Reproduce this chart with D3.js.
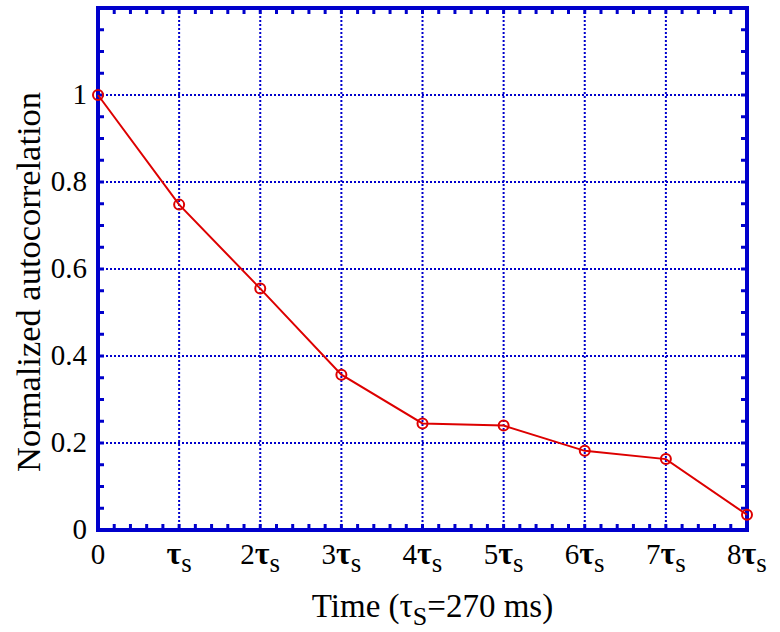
<!DOCTYPE html>
<html>
<head>
<meta charset="utf-8">
<script src="https://cdn.jsdelivr.net/npm/d3@7"></script>
<style>
  body { margin: 0; background: #fff; }
  text { font-family: "Liberation Serif", "DejaVu Serif", serif; fill: #000; }
</style>
</head>
<body>
<svg id="chart" width="780" height="632"></svg>
<script>
// lag in units of tau_s, and normalized autocorrelation
var lags = [0, 1, 2, 3, 4, 5, 6, 7, 8];
var corr = [1.0, 0.748, 0.555, 0.357, 0.245, 0.240, 0.182, 0.163, 0.035];
var yTicks = [0, 0.2, 0.4, 0.6, 0.8, 1];
var yTickLabels = ['0', '0.2', '0.4', '0.6', '0.8', '1'];

var blue = '#0000cc';
var red = '#dd0000';

var svg = d3.select('#chart');
var margin = { left: 98, right: 33, top: 8, bottom: 102 };
var width = 780 - margin.left - margin.right;
var height = 632 - margin.top - margin.bottom;

var g = svg.append('g').attr('transform', 'translate(' + margin.left + ',' + margin.top + ')');

var x = d3.scaleLinear().domain([0, 8]).range([0, width]);
var y = d3.scaleLinear().domain([0, 1.2]).range([height, 0]);

// grid
var gridX = d3.range(1, 8);
var gridY = [0.2, 0.4, 0.6, 0.8, 1];
g.selectAll('.gx').data(gridX).enter().append('line')
    .attr('x1', function(d) { return x(d); }).attr('x2', function(d) { return x(d); })
    .attr('y1', 0).attr('y2', height)
    .attr('stroke', blue).attr('stroke-width', 2).attr('stroke-dasharray', '2,2');
g.selectAll('.gy').data(gridY).enter().append('line')
    .attr('y1', function(d) { return y(d); }).attr('y2', function(d) { return y(d); })
    .attr('x1', 0).attr('x2', width)
    .attr('stroke', blue).attr('stroke-width', 2).attr('stroke-dasharray', '2,2');

// minor ticks
var xMinor = d3.range(0, 8.001, 0.2);
var yMinor = d3.range(0, 1.2001, 0.05);
var tickLen = 6;
g.selectAll('.xmb').data(xMinor).enter().append('line')
    .attr('x1', function(d) { return x(d); }).attr('x2', function(d) { return x(d); })
    .attr('y1', height).attr('y2', height - tickLen)
    .attr('stroke', blue).attr('stroke-width', 3);
g.selectAll('.xmt').data(xMinor).enter().append('line')
    .attr('x1', function(d) { return x(d); }).attr('x2', function(d) { return x(d); })
    .attr('y1', 0).attr('y2', tickLen)
    .attr('stroke', blue).attr('stroke-width', 3);
g.selectAll('.yml').data(yMinor).enter().append('line')
    .attr('y1', function(d) { return y(d); }).attr('y2', function(d) { return y(d); })
    .attr('x1', 0).attr('x2', tickLen)
    .attr('stroke', blue).attr('stroke-width', 3);
g.selectAll('.ymr').data(yMinor).enter().append('line')
    .attr('y1', function(d) { return y(d); }).attr('y2', function(d) { return y(d); })
    .attr('x1', width).attr('x2', width - tickLen)
    .attr('stroke', blue).attr('stroke-width', 3);

// frame
g.append('rect').attr('x', 0).attr('y', 0).attr('width', width).attr('height', height)
    .attr('fill', 'none').attr('stroke', blue).attr('stroke-width', 4);

// line + markers
var line = d3.line()
    .x(function(d, i) { return x(lags[i]); })
    .y(function(d) { return y(d); });
g.append('path').datum(corr).attr('d', line)
    .attr('fill', 'none').attr('stroke', red).attr('stroke-width', 2);
g.selectAll('.pt').data(corr).enter().append('circle')
    .attr('cx', function(d, i) { return x(lags[i]); })
    .attr('cy', function(d) { return y(d); })
    .attr('r', 5).attr('fill', 'none').attr('stroke', red).attr('stroke-width', 2);

// y tick labels
g.selectAll('.yl').data(yTicks).enter().append('text')
    .attr('x', -11).attr('y', function(d) { return y(d) + 9; })
    .attr('text-anchor', 'end').attr('font-size', 29)
    .text(function(d, i) { return yTickLabels[i]; });

// x tick labels
var xl = g.selectAll('.xl').data(lags).enter().append('text')
    .attr('x', function(d) { return x(d); }).attr('y', height + 34)
    .attr('text-anchor', 'middle').attr('font-size', 29);
xl.each(function(d) {
    var t = d3.select(this);
    if (d === 0) { t.text('0'); return; }
    if (d > 1) t.append('tspan').text(d);
    t.append('tspan').attr('font-size', 32).attr('font-weight', 'bold').text('\u03c4');
    t.append('tspan').attr('dy', 8).attr('font-size', 27).text('s');
});

// axis titles
svg.append('text')
    .attr('transform', 'translate(40,' + (margin.top + height / 2 + 13) + ') rotate(-90)')
    .attr('text-anchor', 'middle').attr('font-size', 33)
    .attr('textLength', 380).attr('lengthAdjust', 'spacingAndGlyphs')
    .text('Normalized autocorrelation');

var xt = svg.append('text')
    .attr('x', margin.left + width / 2 + 10).attr('y', 617)
    .attr('text-anchor', 'middle').attr('font-size', 33);
xt.append('tspan').text('Time (\u03c4');
xt.append('tspan').attr('dy', 8).attr('font-size', 26).text('S');
xt.append('tspan').attr('dy', -8).text('=270 ms)');
</script>
</body>
</html>
